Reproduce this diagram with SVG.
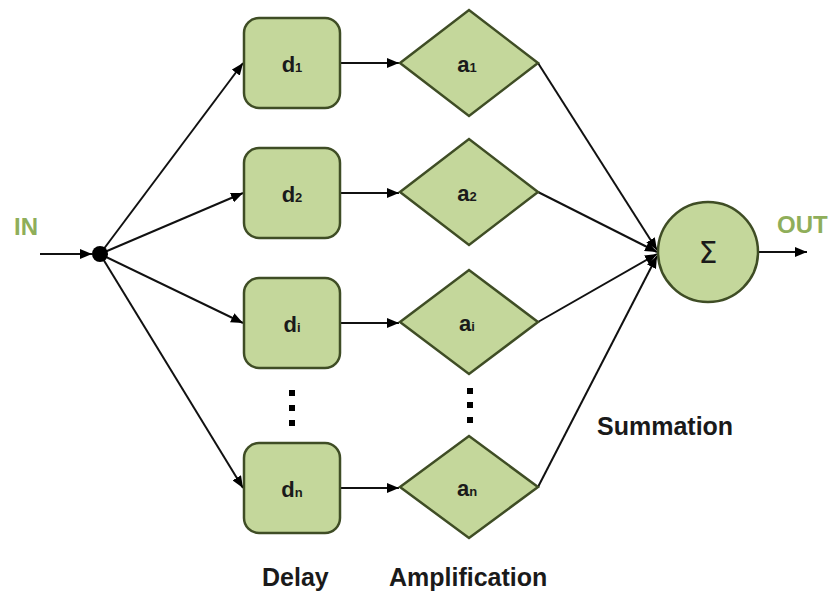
<svg xmlns="http://www.w3.org/2000/svg" width="832" height="596" viewBox="0 0 832 596">
<defs>
<marker id="arr" viewBox="0 0 12 10" refX="12" refY="5" markerWidth="12" markerHeight="10" markerUnits="userSpaceOnUse" orient="auto">
<path d="M0,0 L12,5 L0,10 Z" fill="#000"/>
</marker>
<style>
.box{fill:#c4d79b;stroke:#3f4d25;stroke-width:2.5}
.con{stroke:#111;stroke-width:2;fill:none;marker-end:url(#arr)}
.lbl{font-family:"Liberation Sans",Arial,sans-serif;font-weight:bold;font-size:22px;fill:#1a1a1a;text-anchor:middle}
.sub{font-size:13px}
.cap{font-family:"Liberation Sans",Arial,sans-serif;font-weight:bold;font-size:25px;fill:#1a1a1a}
.io{font-family:"Liberation Sans",Arial,sans-serif;font-weight:bold;font-size:24px;fill:#8fae5a}
.dot{fill:#000}
</style>
</defs>
<rect width="832" height="596" fill="#fff"/>
<g id="connectors">
<line class="con" x1="40" y1="254" x2="92" y2="254"/>
<line class="con" x1="100" y1="254" x2="243" y2="63"/>
<line class="con" x1="100" y1="254" x2="243" y2="193"/>
<line class="con" x1="100" y1="254" x2="243" y2="323"/>
<line class="con" x1="100" y1="254" x2="243" y2="488"/>
<line class="con" x1="341" y1="63" x2="399" y2="63"/>
<line class="con" x1="341" y1="193" x2="399" y2="193"/>
<line class="con" x1="341" y1="323" x2="399" y2="323"/>
<line class="con" x1="341" y1="488" x2="399" y2="488"/>
<line class="con" x1="538" y1="63" x2="657" y2="250"/>
<line class="con" x1="538" y1="192" x2="657" y2="252"/>
<line class="con" x1="538" y1="322" x2="657" y2="254"/>
<line class="con" x1="538" y1="487" x2="657" y2="256"/>
<line class="con" x1="758" y1="252" x2="807" y2="252"/>
</g>
<g id="junction"><circle cx="100" cy="254" r="8" fill="#000"/></g>
<g id="d1"><rect class="box" x="244" y="18" width="96" height="90" rx="15"/><text class="lbl" x="292" y="72">d<tspan class="sub">1</tspan></text></g>
<g id="d2"><rect class="box" x="244" y="148" width="96" height="90" rx="15"/><text class="lbl" x="292" y="202">d<tspan class="sub">2</tspan></text></g>
<g id="di"><rect class="box" x="244" y="278" width="96" height="90" rx="15"/><text class="lbl" x="292" y="332">d<tspan class="sub">i</tspan></text></g>
<g id="dn"><rect class="box" x="244" y="443" width="96" height="90" rx="15"/><text class="lbl" x="292" y="497">d<tspan class="sub">n</tspan></text></g>
<g id="a1"><polygon class="box" points="400,63 469,10 538,63 469,116"/><text class="lbl" x="467" y="72">a<tspan class="sub">1</tspan></text></g>
<g id="a2"><polygon class="box" points="400,192 469,139 538,192 469,245"/><text class="lbl" x="467" y="201">a<tspan class="sub">2</tspan></text></g>
<g id="ai"><polygon class="box" points="400,322 469,270 538,322 469,374"/><text class="lbl" x="467" y="331">a<tspan class="sub">i</tspan></text></g>
<g id="an"><polygon class="box" points="400,487 469,436 538,487 469,538"/><text class="lbl" x="467" y="496">a<tspan class="sub">n</tspan></text></g>
<g id="sum"><circle class="box" cx="708" cy="252" r="50"/><text x="708" y="263" font-family="DejaVu Sans,sans-serif" font-size="30" fill="#1a1a1a" text-anchor="middle">Σ</text></g>
<g id="ellipsis">
<rect class="dot" x="289" y="390" width="6" height="6"/>
<rect class="dot" x="289" y="405" width="6" height="6"/>
<rect class="dot" x="289" y="420" width="6" height="6"/>
<rect class="dot" x="467" y="388" width="6" height="6"/>
<rect class="dot" x="467" y="402" width="6" height="6"/>
<rect class="dot" x="467" y="417" width="6" height="6"/>
</g>
<g id="labels">
<text class="io" x="14" y="235">IN</text>
<text class="io" x="777" y="233">OUT</text>
<text class="cap" x="262" y="586">Delay</text>
<text class="cap" x="389" y="586">Amplification</text>
<text class="cap" x="597" y="435">Summation</text>
</g>
</svg>
